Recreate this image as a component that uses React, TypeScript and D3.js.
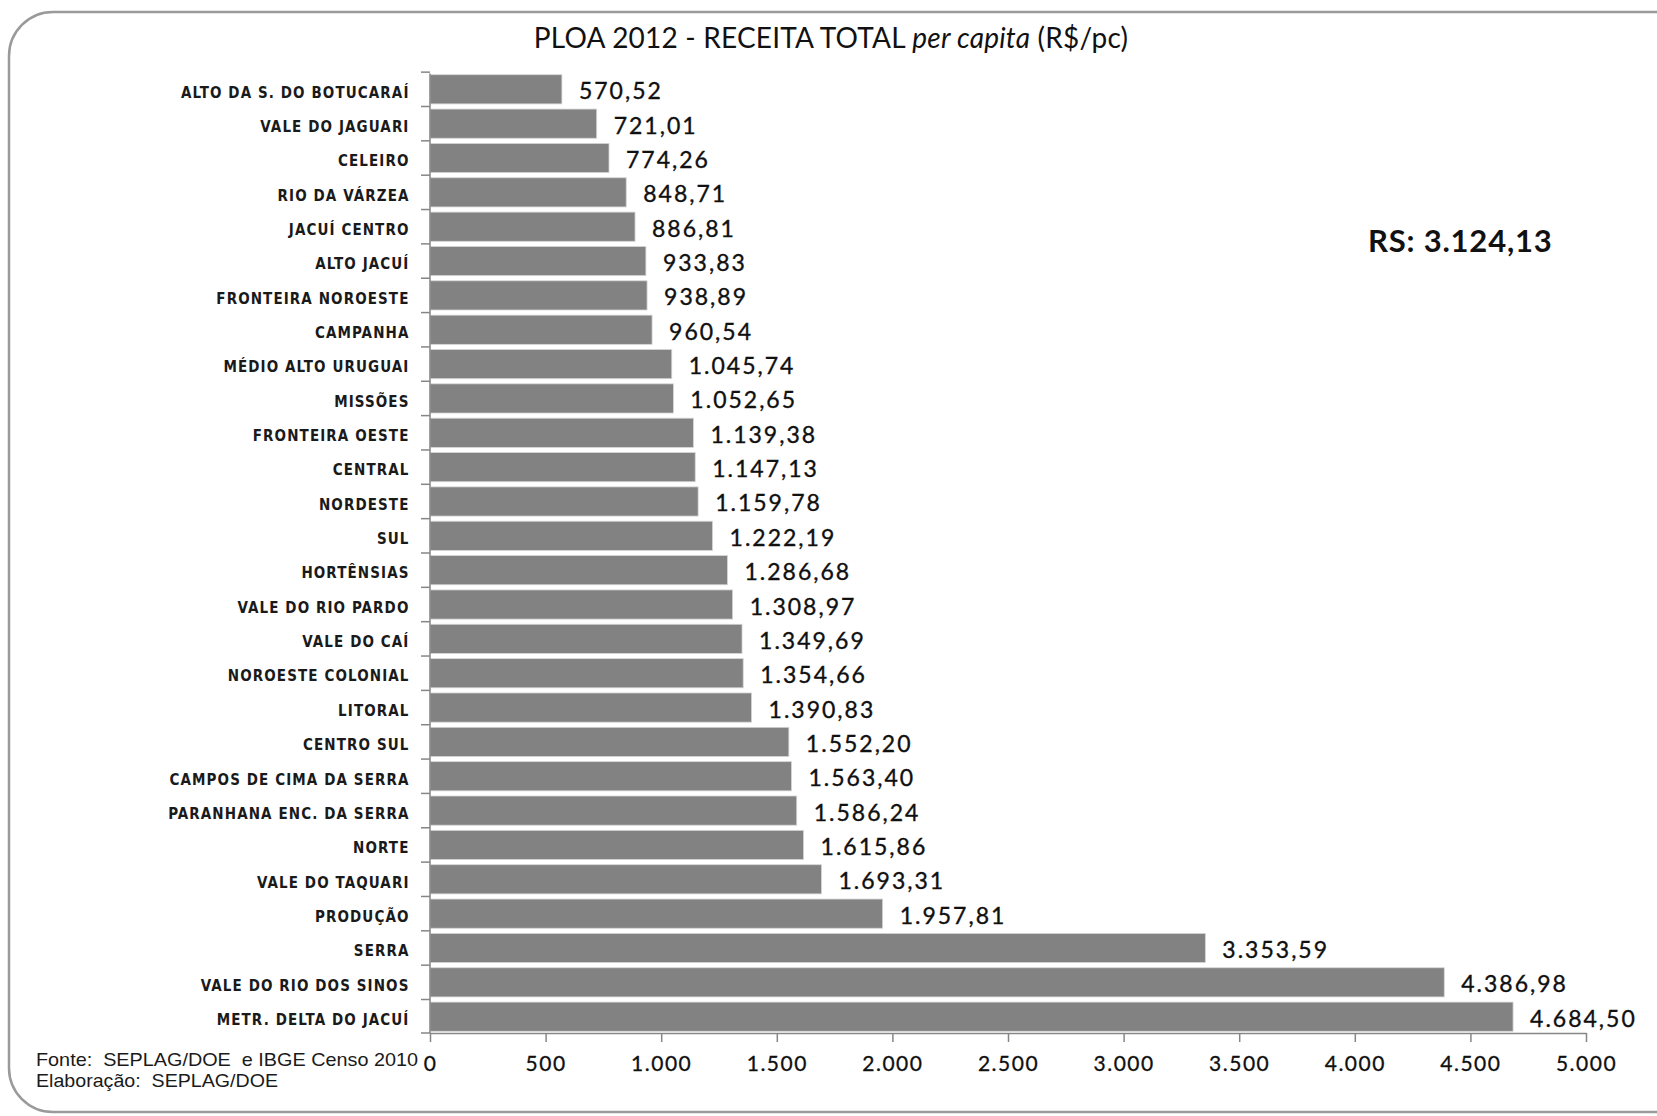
import React from 'react';
import { select, scaleBand, scaleLinear, axisLeft, axisBottom, formatLocale } from 'd3';

const regions = [
    'ALTO DA S. DO BOTUCARAÍ', 'VALE DO JAGUARI', 'CELEIRO', 'RIO DA VÁRZEA', 'JACUÍ CENTRO',
    'ALTO JACUÍ', 'FRONTEIRA NOROESTE', 'CAMPANHA', 'MÉDIO ALTO URUGUAI', 'MISSÕES',
    'FRONTEIRA OESTE', 'CENTRAL', 'NORDESTE', 'SUL', 'HORTÊNSIAS',
    'VALE DO RIO PARDO', 'VALE DO CAÍ', 'NOROESTE COLONIAL', 'LITORAL', 'CENTRO SUL',
    'CAMPOS DE CIMA DA SERRA', 'PARANHANA ENC. DA SERRA', 'NORTE', 'VALE DO TAQUARI', 'PRODUÇÃO',
    'SERRA', 'VALE DO RIO DOS SINOS', 'METR. DELTA DO JACUÍ',
];
const receitaPerCapita = [
    570.52, 721.01, 774.26, 848.71, 886.81,
    933.83, 938.89, 960.54, 1045.74, 1052.65,
    1139.38, 1147.13, 1159.78, 1222.19, 1286.68,
    1308.97, 1349.69, 1354.66, 1390.83, 1552.20,
    1563.40, 1586.24, 1615.86, 1693.31, 1957.81,
    3353.59, 4386.98, 4684.50,
];
const xTicks = [0, 500, 1000, 1500, 2000, 2500, 3000, 3500, 4000, 4500, 5000];
const totalRS = 3124.13;

const dims = {
    width: 1657,
    height: 1116,
    left: 430,
    right: 1586,
    top: 73,
    bottom: 1033,
};

const ptBR = formatLocale({ decimal: ',', thousands: '.', grouping: [3], currency: ['R$', ''] });
const fmtValue = ptBR.format(',.2f');
const fmtTick = ptBR.format(',.0f');

const numFont = 'Lato, "Open Sans", sans-serif';

const App = () => {
    const svgRef = React.useRef<SVGSVGElement>(null);

    React.useEffect(() => {
        const svg = select(svgRef.current);
        svg.selectAll('*').remove();

        const data = regions.map((r, i) => ({ region: r, value: receitaPerCapita[i] }));

        const xScale = scaleLinear().domain([0, 5000]).range([dims.left, dims.right]);
        const yScale = scaleBand()
            .domain(regions)
            .range([dims.top, dims.bottom])
            .paddingInner(0.15)
            .paddingOuter(0.05);

        // frame
        svg.append('rect')
            .attr('x', 9).attr('y', 12)
            .attr('width', 1700).attr('height', 1100)
            .attr('rx', 44).attr('ry', 44)
            .attr('fill', 'white')
            .attr('stroke', '#9a9a9a')
            .attr('stroke-width', 2.5);

        // title
        const title = svg.append('text')
            .attr('x', 831).attr('y', 48)
            .attr('text-anchor', 'middle')
            .attr('font-family', numFont)
            .attr('font-size', 28)
            .attr('letter-spacing', 0.2)
            .attr('fill', '#111');
        title.append('tspan').text('PLOA 2012 - RECEITA TOTAL ');
        title.append('tspan').attr('font-style', 'italic').text('per capita');
        title.append('tspan').text(' (R$/pc)');

        // bars
        svg.append('g')
            .selectAll('rect')
            .data(data)
            .join('rect')
            .attr('x', xScale(0))
            .attr('y', d => yScale(d.region))
            .attr('width', d => xScale(d.value) - xScale(0))
            .attr('height', yScale.bandwidth())
            .attr('fill', '#828282')
            .attr('stroke', '#d6d6d6')
            .attr('stroke-width', 0.8);

        // value labels
        svg.append('g')
            .selectAll('text')
            .data(data)
            .join('text')
            .attr('x', d => xScale(d.value) + 17)
            .attr('y', d => yScale(d.region) + yScale.bandwidth() / 2 + 10)
            .attr('font-family', numFont)
            .attr('font-size', 23)
            .attr('letter-spacing', 2)
            .attr('fill', '#101010')
            .attr('stroke', '#101010')
            .attr('stroke-width', 0.35)
            .text(d => fmtValue(d.value));

        // y axis
        const yAxis = axisLeft(yScale).tickSize(0).tickPadding(20);
        const yAxisGroup = svg.append('g')
            .attr('transform', `translate(${dims.left - 0.5}, 0)`)
            .call(yAxis);
        yAxisGroup.select('.domain').attr('stroke', '#868686').attr('stroke-width', 1.5);
        yAxisGroup.selectAll('text')
            .attr('font-family', '"DejaVu Sans Condensed", "DejaVu Sans", sans-serif')
            .attr('font-weight', 'bold')
            .attr('font-size', 15)
            .attr('letter-spacing', 1.1)
            .attr('fill', '#1a1a1a')
            .attr('dy', '0.55em');

        // category separator ticks
        const step = yScale.step();
        const sepY = regions.map(r => yScale(r) - (step - yScale.bandwidth()) / 2);
        sepY.push(dims.bottom);
        svg.append('g')
            .selectAll('line')
            .data(sepY)
            .join('line')
            .attr('x1', dims.left - 9).attr('x2', dims.left)
            .attr('y1', d => d).attr('y2', d => d)
            .attr('stroke', '#868686')
            .attr('stroke-width', 1.5);

        // x axis
        const xAxis = axisBottom(xScale)
            .tickValues(xTicks)
            .tickSize(9)
            .tickSizeOuter(0)
            .tickPadding(14)
            .tickFormat(d => fmtTick(d as number));
        const xAxisGroup = svg.append('g')
            .attr('transform', `translate(0, ${dims.bottom})`)
            .call(xAxis);
        xAxisGroup.select('.domain').attr('stroke', '#868686').attr('stroke-width', 1.5);
        xAxisGroup.selectAll('line').attr('stroke', '#868686').attr('stroke-width', 1.5);
        xAxisGroup.selectAll('text')
            .attr('font-family', numFont)
            .attr('font-size', 21)
            .attr('letter-spacing', 1.5)
            .attr('fill', '#101010')
            .attr('stroke', '#101010')
            .attr('stroke-width', 0.3);

        // state total
        svg.append('text')
            .attr('x', 1368).attr('y', 252)
            .attr('font-family', numFont)
            .attr('font-weight', 'bold')
            .attr('font-size', 31)
            .attr('letter-spacing', 0.8)
            .attr('fill', '#111')
            .text(`RS: ${fmtValue(totalRS)}`);

        // source note
        const note = svg.append('g')
            .attr('font-family', '"Liberation Sans", Arial, sans-serif')
            .attr('font-size', 19)
            .attr('fill', '#1a1a1a');
        note.append('text')
            .attr('x', 36).attr('y', 1066)
            .attr('textLength', 382)
            .attr('lengthAdjust', 'spacingAndGlyphs')
            .attr('xml:space', 'preserve')
            .text('Fonte:  SEPLAG/DOE  e IBGE Censo 2010');
        note.append('text')
            .attr('x', 36).attr('y', 1087)
            .attr('textLength', 242)
            .attr('lengthAdjust', 'spacingAndGlyphs')
            .attr('xml:space', 'preserve')
            .text('Elaboração:  SEPLAG/DOE');
    }, []);

    return (
        <div style={{ position: 'absolute', left: 0, top: 0 }}>
            <svg ref={svgRef} width={dims.width} height={dims.height} style={{ display: 'block' }} />
        </div>
    );
};

export default App;
